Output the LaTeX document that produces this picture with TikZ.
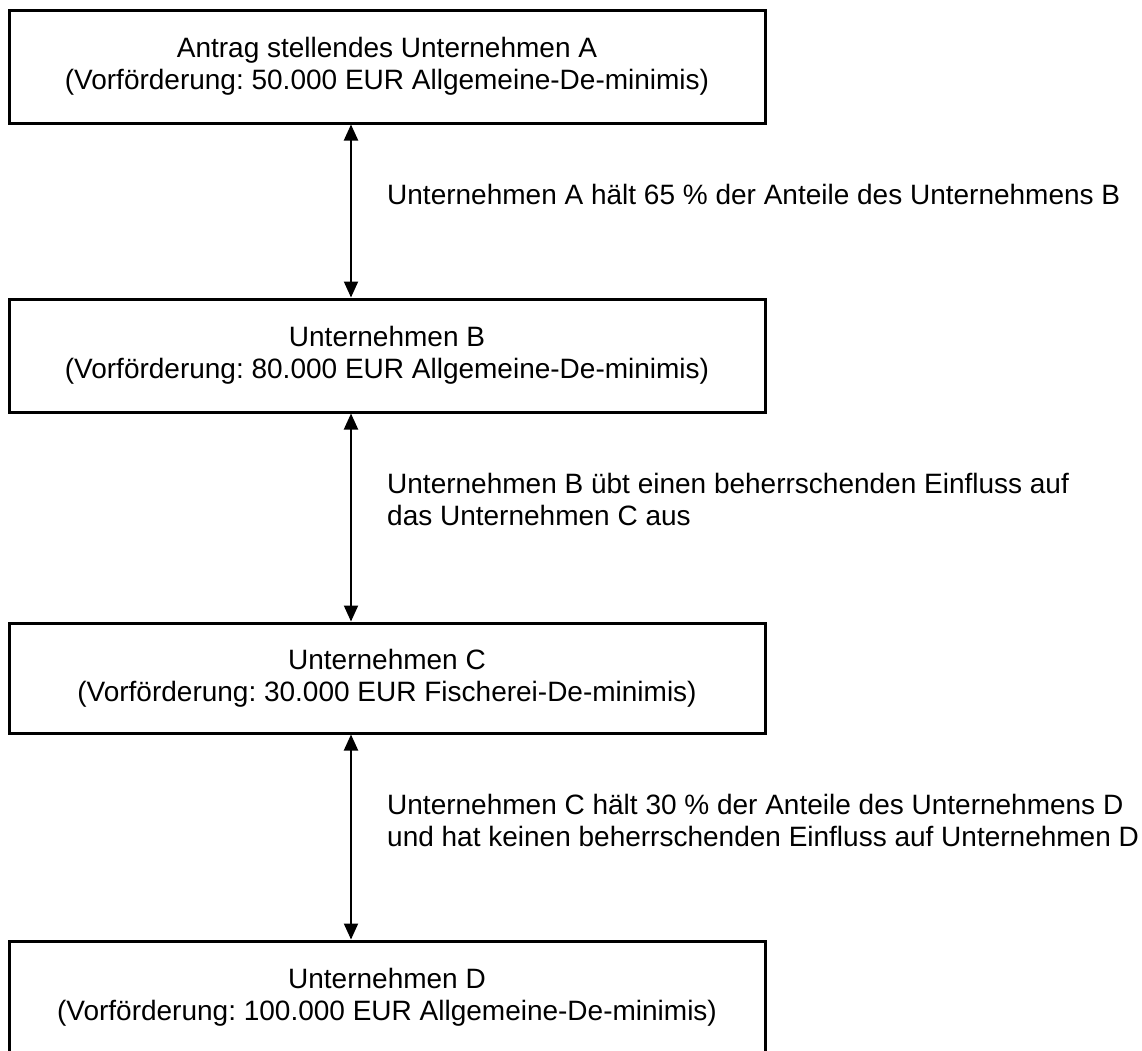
\documentclass[tikz,border=0pt]{standalone}
\usepackage{fontspec}
\setmainfont{Liberation Sans}
\usetikzlibrary{arrows.meta}
\frenchspacing
\begin{document}
\begin{tikzpicture}[x=1pt,y=-1pt,
  box/.style={draw=black,line width=3pt,minimum width=756pt,inner sep=0pt,align=center,font=\fontsize{28}{32}\selectfont\frenchspacing},
  lbl/.style={inner sep=0pt,align=left,anchor=north west,font=\fontsize{28}{32}\selectfont\frenchspacing},
  link/.style={line width=2pt,{Triangle[width=14pt,length=16pt]}-{Triangle[width=14pt,length=16pt]}}]
\useasboundingbox (0,0) rectangle (1142,1050);
\coordinate (ax) at (351,0);
\node[box,minimum height=113pt] (A) at (387,66.5) {Antrag stellendes Unternehmen A\\(Vorförderung: 50.000 EUR Allgemeine-De-minimis)};
\node[box,minimum height=113pt] (B) at (387,355.5) {Unternehmen B\\(Vorförderung: 80.000 EUR Allgemeine-De-minimis)};
\node[box,minimum height=110pt] (C) at (387,678) {Unternehmen C\\(Vorförderung: 30.000 EUR Fischerei-De-minimis)};
\node[box,minimum height=113pt] (D) at (387,997.5) {Unternehmen D\\(Vorförderung: 100.000 EUR Allgemeine-De-minimis)};
\draw[link] (A.south -| ax) -- (B.north -| ax);
\draw[link] (B.south -| ax) -- (C.north -| ax);
\draw[link] (C.south -| ax) -- (D.north -| ax);
\node[lbl] (l1) at (387,184) {Unternehmen A hält 65 \% der Anteile des Unternehmens B};
\node[lbl] (l2) at (387,473) {Unternehmen B übt einen beherrschenden Einfluss auf\\das Unternehmen C aus};
\node[lbl] (l3) at (387,794) {Unternehmen C hält 30 \% der Anteile des Unternehmens D\\und hat keinen beherrschenden Einfluss auf Unternehmen D};
\end{tikzpicture}
\end{document}
